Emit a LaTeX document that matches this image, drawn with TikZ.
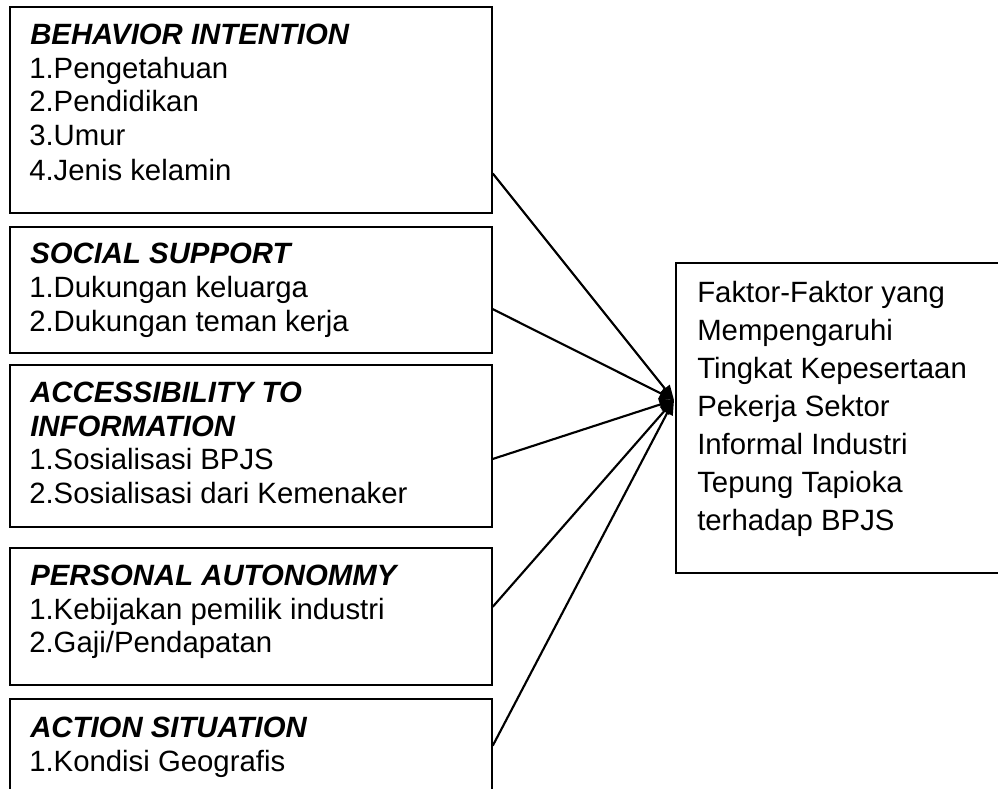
\documentclass[tikz,border=0pt]{standalone}
\usepackage{fontspec}
\setmainfont{Liberation Sans}
\usetikzlibrary{arrows.meta,calc}
\begin{document}
\begin{tikzpicture}[x=0.75pt,y=-0.75pt,
  frame/.style={draw=black, line width=1.3pt, rectangle, anchor=north west, inner sep=0pt},
  lbl/.style={anchor=base west, inner sep=0pt, font=\fontsize{22}{26}\selectfont},
  ttl/.style={anchor=base west, inner sep=0pt, font=\fontsize{22}{26}\selectfont\bfseries\itshape},
  link/.style={line width=1.6pt, -{Triangle[length=11pt,width=9pt]}}]
\useasboundingbox (0,0) rectangle (998,788);
\clip (0,0) rectangle (998,788);
% boxes
\node[frame, minimum width=361.5pt, minimum height=154.5pt] (b1) at (9,6) {};
\node[frame, minimum width=361.5pt, minimum height=94.5pt] (b2) at (9,226) {};
\node[frame, minimum width=361.5pt, minimum height=121.5pt] (b3) at (9,364) {};
\node[frame, minimum width=361.5pt, minimum height=102.75pt] (b4) at (9,547) {};
\node[frame, minimum width=361.5pt, minimum height=90pt] (b5) at (9,698) {};
\node[frame, minimum width=251.25pt, minimum height=232.5pt] (r) at (675,262) {};
% box 1
\node[ttl] (t1) at (30,45) {BEHAVIOR INTENTION};
\node[lbl] (t1a) at (29,79) {1.Pengetahuan};
\node[lbl] (t1b) at (29,112) {2.Pendidikan};
\node[lbl] (t1c) at (29,146) {3.Umur};
\node[lbl] (t1d) at (29,180) {4.Jenis kelamin};
% box 2
\node[ttl] (t2) at (30,263) {SOCIAL SUPPORT};
\node[lbl] (t2a) at (29,297) {1.Dukungan keluarga};
\node[lbl] (t2b) at (29,331) {2.Dukungan teman kerja};
% box 3
\node[ttl] (t3) at (30,402) {ACCESSIBILITY TO};
\node[ttl] (t3x) at (30,436) {INFORMATION};
\node[lbl] (t3a) at (29,469) {1.Sosialisasi BPJS};
\node[lbl] (t3b) at (29,503) {2.Sosialisasi dari Kemenaker};
% box 4
\node[ttl] (t4) at (30,585) {PERSONAL AUTONOMMY};
\node[lbl] (t4a) at (29,619) {1.Kebijakan pemilik industri};
\node[lbl] (t4b) at (29,652) {2.Gaji/Pendapatan};
% box 5
\node[ttl] (t5) at (30,737) {ACTION SITUATION};
\node[lbl] (t5a) at (29,771) {1.Kondisi Geografis};
% right box
\node[lbl] (r1) at (697,302) {Faktor-Faktor yang};
\node[lbl] (r2) at (697,340) {Mempengaruhi};
\node[lbl] (r3) at (697,378) {Tingkat Kepesertaan};
\node[lbl] (r4) at (697,416) {Pekerja Sektor};
\node[lbl] (r5) at (697,454) {Informal Industri};
\node[lbl] (r6) at (697,492) {Tepung Tapioka};
\node[lbl] (r7) at (697,530) {terhadap BPJS};
% connectors
\coordinate (tip) at (674,400);
\draw[link] ($(b1.north east)!0.806!(b1.south east)$) -- (tip);
\draw[link] ($(b2.north east)!0.651!(b2.south east)$) -- (tip);
\draw[link] ($(b3.north east)!0.580!(b3.south east)$) -- (tip);
\draw[link] ($(b4.north east)!0.431!(b4.south east)$) -- (tip);
\draw[link] ($(b5.north east)!0.392!(b5.south east)$) -- (tip);
\end{tikzpicture}
\end{document}
